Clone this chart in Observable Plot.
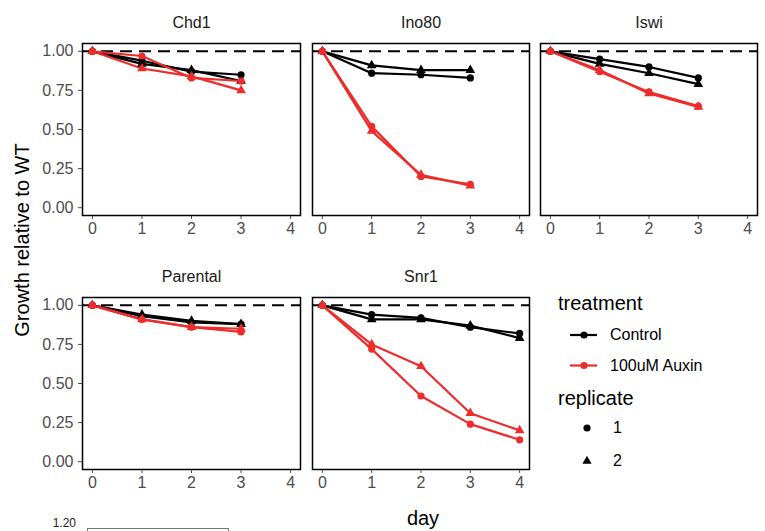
<!DOCTYPE html>
<html>
<head>
<meta charset="utf-8">
<script src="https://cdn.jsdelivr.net/npm/d3@7"></script>
<script src="https://cdn.jsdelivr.net/npm/@observablehq/plot@0.6"></script>
<style>
  body { margin: 0; background: #fff; }
  #chart { position: relative; width: 765px; height: 531px; overflow: hidden;
           font-family: "Liberation Sans", Arial, Helvetica, sans-serif; color: #000; }
  #chart svg { overflow: visible; }
  .abs { position: absolute; white-space: nowrap; }
</style>
</head>
<body>
<div id="chart"></div>
<script>
// Categories and tick labels
const days = [0, 1, 2, 3, 4];
const strains = ["Chd1", "Ino80", "Iswi", "Parental", "Snr1"];
const treatments = ["Control", "100uM Auxin"];
const treatmentColors = ["#000000", "#EE2C2C"];
const replicates = ["1", "2"];
const replicateSymbols = ["circle", "triangle"];
const xTicks = [0, 1, 2, 3, 4];
const yTicks = [0, 0.25, 0.5, 0.75, 1];
const wtLevel = [1];

// Growth relative to WT, one array per strain / treatment / replicate (index = day)
const chd1Control1 = [1.00, 0.94, 0.87, 0.85];
const chd1Control2 = [1.00, 0.92, 0.88, 0.81];
const chd1Auxin1   = [1.00, 0.97, 0.83, 0.81];
const chd1Auxin2   = [1.00, 0.89, 0.84, 0.75];

const ino80Control1 = [1.00, 0.86, 0.85, 0.83];
const ino80Control2 = [1.00, 0.91, 0.88, 0.88];
const ino80Auxin1   = [1.00, 0.52, 0.20, 0.15];
const ino80Auxin2   = [1.00, 0.49, 0.21, 0.14];

const iswiControl1 = [1.00, 0.95, 0.90, 0.83];
const iswiControl2 = [1.00, 0.92, 0.86, 0.79];
const iswiAuxin1   = [1.00, 0.87, 0.74, 0.65];
const iswiAuxin2   = [1.00, 0.88, 0.73, 0.645];

const parentalControl1 = [1.00, 0.93, 0.89, 0.88];
const parentalControl2 = [1.00, 0.94, 0.90, 0.88];
const parentalAuxin1   = [1.00, 0.91, 0.86, 0.83];
const parentalAuxin2   = [1.00, 0.91, 0.86, 0.85];

const snr1Control1 = [1.00, 0.94, 0.92, 0.86, 0.82];
const snr1Control2 = [1.00, 0.91, 0.91, 0.87, 0.79];
const snr1Auxin1   = [1.00, 0.72, 0.42, 0.24, 0.14];
const snr1Auxin2   = [1.00, 0.75, 0.61, 0.31, 0.20];

// [treatment][replicate] series for each strain
const seriesByStrain = {
  Chd1:     [[chd1Control1, chd1Control2], [chd1Auxin1, chd1Auxin2]],
  Ino80:    [[ino80Control1, ino80Control2], [ino80Auxin1, ino80Auxin2]],
  Iswi:     [[iswiControl1, iswiControl2], [iswiAuxin1, iswiAuxin2]],
  Parental: [[parentalControl1, parentalControl2], [parentalAuxin1, parentalAuxin2]],
  Snr1:     [[snr1Control1, snr1Control2], [snr1Auxin1, snr1Auxin2]]
};

function rowsFor(strain) {
  const out = [];
  seriesByStrain[strain].forEach((reps, t) => {
    reps.forEach((values, r) => {
      values.forEach((v, i) => out.push({
        strain, day: days[i], growth: v,
        treatment: treatments[t], replicate: replicates[r],
        key: treatments[t] + "/" + replicates[r]
      }));
    });
  });
  return out;
}

const chart = document.getElementById("chart");
const fontSmall = 16;

// panel grid: frame boxes of 218 x 172 px
const colLeft = [0, 300, 528];
const rowTop = [0, 254];

strains.forEach((strain, i) => {
  const col = i % 3, row = Math.floor(i / 3);
  const leftCol = col === 0;
  const data = rowsFor(strain);
  const plot = Plot.plot({
    width: leftCol ? 302 : 231,
    height: 245,
    marginLeft: leftCol ? 82 : 12,
    marginRight: 2,
    marginTop: 43,
    marginBottom: 30,
    style: { fontSize: fontSmall + "px", fontFamily: "Liberation Sans, Arial, sans-serif", color: "#4d4d4d", background: "transparent" },
    x: { domain: [-0.2, 4.2], ticks: xTicks, tickFormat: d => String(d), tickSize: 4, tickPadding: 3, label: null },
    y: leftCol
      ? { domain: [-0.05, 1.05], ticks: yTicks, tickFormat: d3.format(".2f"), tickSize: 4, tickPadding: 5, label: null }
      : { domain: [-0.05, 1.05], axis: null },
    color: { domain: treatments, range: treatmentColors },
    symbol: { domain: replicates, range: replicateSymbols },
    marks: [
      Plot.ruleY(wtLevel, { stroke: "#000", strokeWidth: 2, strokeDasharray: "12,7" }),
      Plot.line(data, { x: "day", y: "growth", z: "key", stroke: "treatment", strokeWidth: 2.2 }),
      Plot.dot(data, { x: "day", y: "growth", fill: "treatment", symbol: "replicate", r: 3.6 }),
      Plot.frame({ stroke: "#000", strokeWidth: 1.5 }),
      Plot.text([strain], { text: d => d, frameAnchor: "top", dy: -27, fill: "#1a1a1a", fontSize: fontSmall })
    ]
  });
  plot.style.position = "absolute";
  plot.style.left = colLeft[col] + "px";
  plot.style.top = rowTop[row] + "px";
  chart.appendChild(plot);
});

// axis titles
function addText(text, css) {
  const el = document.createElement("div");
  el.className = "abs";
  el.textContent = text;
  Object.assign(el.style, css);
  chart.appendChild(el);
  return el;
}
addText("Growth relative to WT", {
  left: "22px", top: "240px", fontSize: "20px",
  transform: "translate(-50%, -50%) rotate(-90deg)"
});
addText("day", { left: "423px", top: "518px", fontSize: "20px", transform: "translate(-50%, -50%)" });

// legend
const svgNS = "http://www.w3.org/2000/svg";
function keySvg(cx, cy, draw) {
  const svg = document.createElementNS(svgNS, "svg");
  svg.setAttribute("width", 765);
  svg.setAttribute("height", 531);
  svg.style.position = "absolute";
  svg.style.left = "0px";
  svg.style.top = "0px";
  svg.style.overflow = "visible";
  draw(d3.select(svg), cx, cy);
  chart.appendChild(svg);
}
addText("treatment", { left: "558px", top: "303px", fontSize: "20px", transform: "translateY(-50%)" });
treatments.forEach((t, k) => {
  const y = 335 + k * 30.5;
  keySvg(584, y, (s, cx, cy) => {
    s.append("line").attr("x1", cx - 14).attr("x2", cx + 13).attr("y1", cy).attr("y2", cy)
      .attr("stroke", treatmentColors[k]).attr("stroke-width", 2.2);
    s.append("circle").attr("cx", cx).attr("cy", cy).attr("r", 3.6).attr("fill", treatmentColors[k]);
  });
  addText(t, { left: "610px", top: y + "px", fontSize: fontSmall + "px", transform: "translateY(-50%)" });
});
addText("replicate", { left: "558px", top: "398px", fontSize: "20px", transform: "translateY(-50%)" });
const legendShapes = [d3.symbolCircle, d3.symbolTriangle];
replicates.forEach((r, k) => {
  const y = 428 + k * 33;
  keySvg(587, y, (s, cx, cy) => {
    s.append("path").attr("transform", `translate(${cx},${cy})`)
      .attr("d", d3.symbol(legendShapes[k], k === 0 ? 40 : 36)()).attr("fill", "#000");
  });
  addText(r, { left: "613px", top: y + "px", fontSize: fontSmall + "px", transform: "translateY(-50%)" });
});

// edge of the figure below
addText("1.20", { left: "76px", top: "523px", fontSize: "12px", lineHeight: "12px", transform: "translate(-100%, -50%)", color: "#222" });
const box = document.createElement("div");
Object.assign(box.style, { position: "absolute", left: "87px", top: "528px", width: "140px", height: "20px", border: "1px solid #777" });
chart.appendChild(box);
</script>
</body>
</html>
